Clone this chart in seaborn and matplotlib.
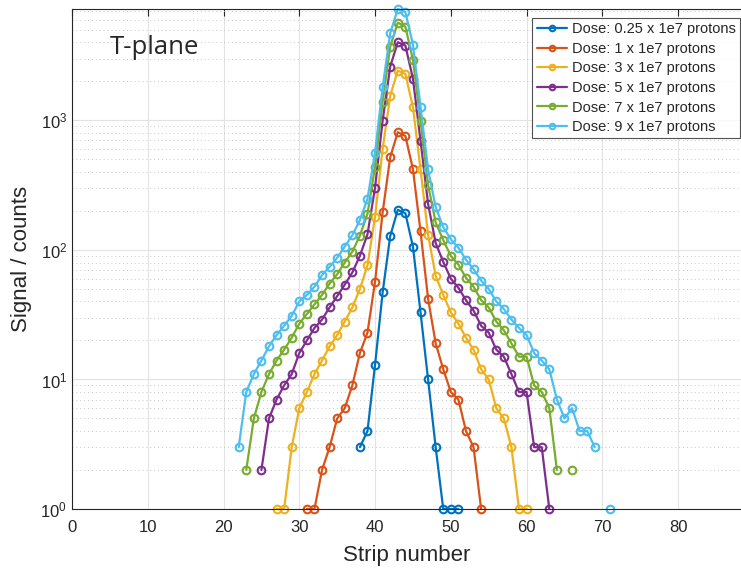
import numpy as np
import pandas as pd
import matplotlib
matplotlib.use("Agg")
import matplotlib.pyplot as plt
import seaborn as sns

# ============================ Data ============================
doses = ['Dose: 0.25 x 1e7 protons', 'Dose: 1 x 1e7 protons', 'Dose: 3 x 1e7 protons',
         'Dose: 5 x 1e7 protons', 'Dose: 7 x 1e7 protons', 'Dose: 9 x 1e7 protons']
colors = ['#0072BD', '#D95319', '#EDB120', '#7E2F8E', '#77AC30', '#4DBEEE']

strips_025 = list(range(38, 52))
counts_025 = [3, 4, 13, 47, 128, 204, 192, 106, 33, 10, 3, 1, 1, 1]

strips_1 = list(range(31, 55))
counts_1 = [1, 1, 2, 3, 5, 6, 9, 16, 23, 57, 195, 520, 811, 759, 421, 139, 42, 19, 12, 8, 7, 4, 3, 1]

strips_3 = list(range(27, 61))
counts_3 = [1, 1, 3, 6, 8, 11, 14, 18, 22, 28, 36, 50, 76, 181, 600, 1550, 2425, 2287, 1265, 420,
            131, 63, 45, 33, 27, 21, 17, 12, 10, 6, 5, 3, 1, 1]

strips_5 = list(range(25, 64))
counts_5 = [2, 5, 7, 9, 11, 16, 20, 25, 29, 36, 44, 54, 67, 90, 132, 303, 996, 2600, 4018, 3784,
            2103, 698, 227, 113, 81, 60, 51, 41, 34, 26, 23, 17, 15, 11, 8, 8, 3, 3, 1]

strips_7 = list(range(23, 67))
counts_7 = [2, 5, 8, 11, 14, 17, 21, 27, 32, 38, 45, 55, 65, 80, 97, 129, 190, 440, 1397, 3715,
            5690, 5300, 2930, 996, 318, 163, 119, 90, 77, 61, 52, 41, 36, 28, 24, 19, 15, 15, 9, 8,
            6, 2, np.nan, 2]

strips_9 = list(range(22, 72))
counts_9 = [3, 8, 11, 14, 18, 22, 26, 31, 40, 45, 52, 64, 74, 87, 106, 130, 170, 248, 565, 1800,
            4710, 7250, 6880, 3850, 1278, 420, 214, 150, 121, 104, 84, 71, 58, 50, 40, 35, 29, 25, 22, 16,
            14, 12, 7, 5, 6, 4, 4, 3, np.nan, 1]

all_strips = [strips_025, strips_1, strips_3, strips_5, strips_7, strips_9]
all_counts = [counts_025, counts_1, counts_3, counts_5, counts_7, counts_9]

# long-form table; zero counts (NaN) break the line into separate segments
rows = []
for dose, xs, ys in zip(doses, all_strips, all_counts):
    seg = 0
    for x, y in zip(xs, ys):
        if np.isnan(y):
            seg += 1
            continue
        rows.append({'Strip': x, 'Signal': y, 'Dose': dose, 'seg': seg})
df = pd.DataFrame(rows)

# ============================ Plot ============================
sns.set_style("white")
plt.rcParams['font.family'] = ['Liberation Sans', 'DejaVu Sans']

fig = plt.figure(figsize=(7.41, 5.69), dpi=100)
ax = fig.add_axes([72 / 741, 1 - 509 / 569, 1 - 72 / 741, (509 - 9) / 569])

sns.lineplot(data=df, x='Strip', y='Signal', hue='Dose', units='seg', estimator=None,
             hue_order=doses, palette=colors, marker='o', markersize=5.5,
             markerfacecolor='none', markeredgewidth=1.5, linewidth=1.6,
             clip_on=False, ax=ax, legend=False)
for line in ax.lines:
    line.set_markeredgecolor(line.get_color())

ax.set_yscale('log')
ax.set_xlim(0, 88.3)
ax.set_ylim(1, 7250)
ax.set_xticks(range(0, 90, 10))

ax.grid(True, which='major', color='#e3e3e3', linewidth=0.8)
ax.grid(True, which='minor', axis='y', color='#c8c8c8', linestyle=(0, (1, 3)), linewidth=0.7)
ax.set_axisbelow(True)

ax.tick_params(which='both', direction='in', top=True, right=False, colors='#262626',
               labelsize=12)
ax.tick_params(which='major', length=5)
ax.tick_params(which='minor', length=2.5)
ax.tick_params(axis='x', pad=8)
ax.spines['right'].set_visible(False)
for s in ['left', 'bottom', 'top']:
    ax.spines[s].set_color('#262626')
    ax.spines[s].set_linewidth(0.8)

ax.set_xlabel('Strip number', fontsize=16, color='#262626', labelpad=7)
ax.set_ylabel('Signal / counts', fontsize=16, color='#262626', labelpad=6)

ax.text(38 / 669, 0.923, 'T-plane', transform=ax.transAxes, fontsize=18.5,
        family=['Open Sans', 'DejaVu Sans'], va='center', ha='left')

handles = [plt.Line2D([], [], color=c, marker='o', markersize=4, markerfacecolor='none',
                      markeredgewidth=1.5, linewidth=1.6) for c in colors]
leg = ax.legend(handles, doses, loc='upper right', bbox_to_anchor=(740 / 741, 1 - 18 / 569),
                bbox_transform=fig.transFigure, borderaxespad=0, fontsize=10.5,
                frameon=True, fancybox=False, handlelength=2.1, handletextpad=0.3,
                labelspacing=0.38, borderpad=0.3)
leg.get_frame().set_edgecolor('#262626')
leg.get_frame().set_linewidth(0.8)

fig.savefig('out.png', dpi=100)
